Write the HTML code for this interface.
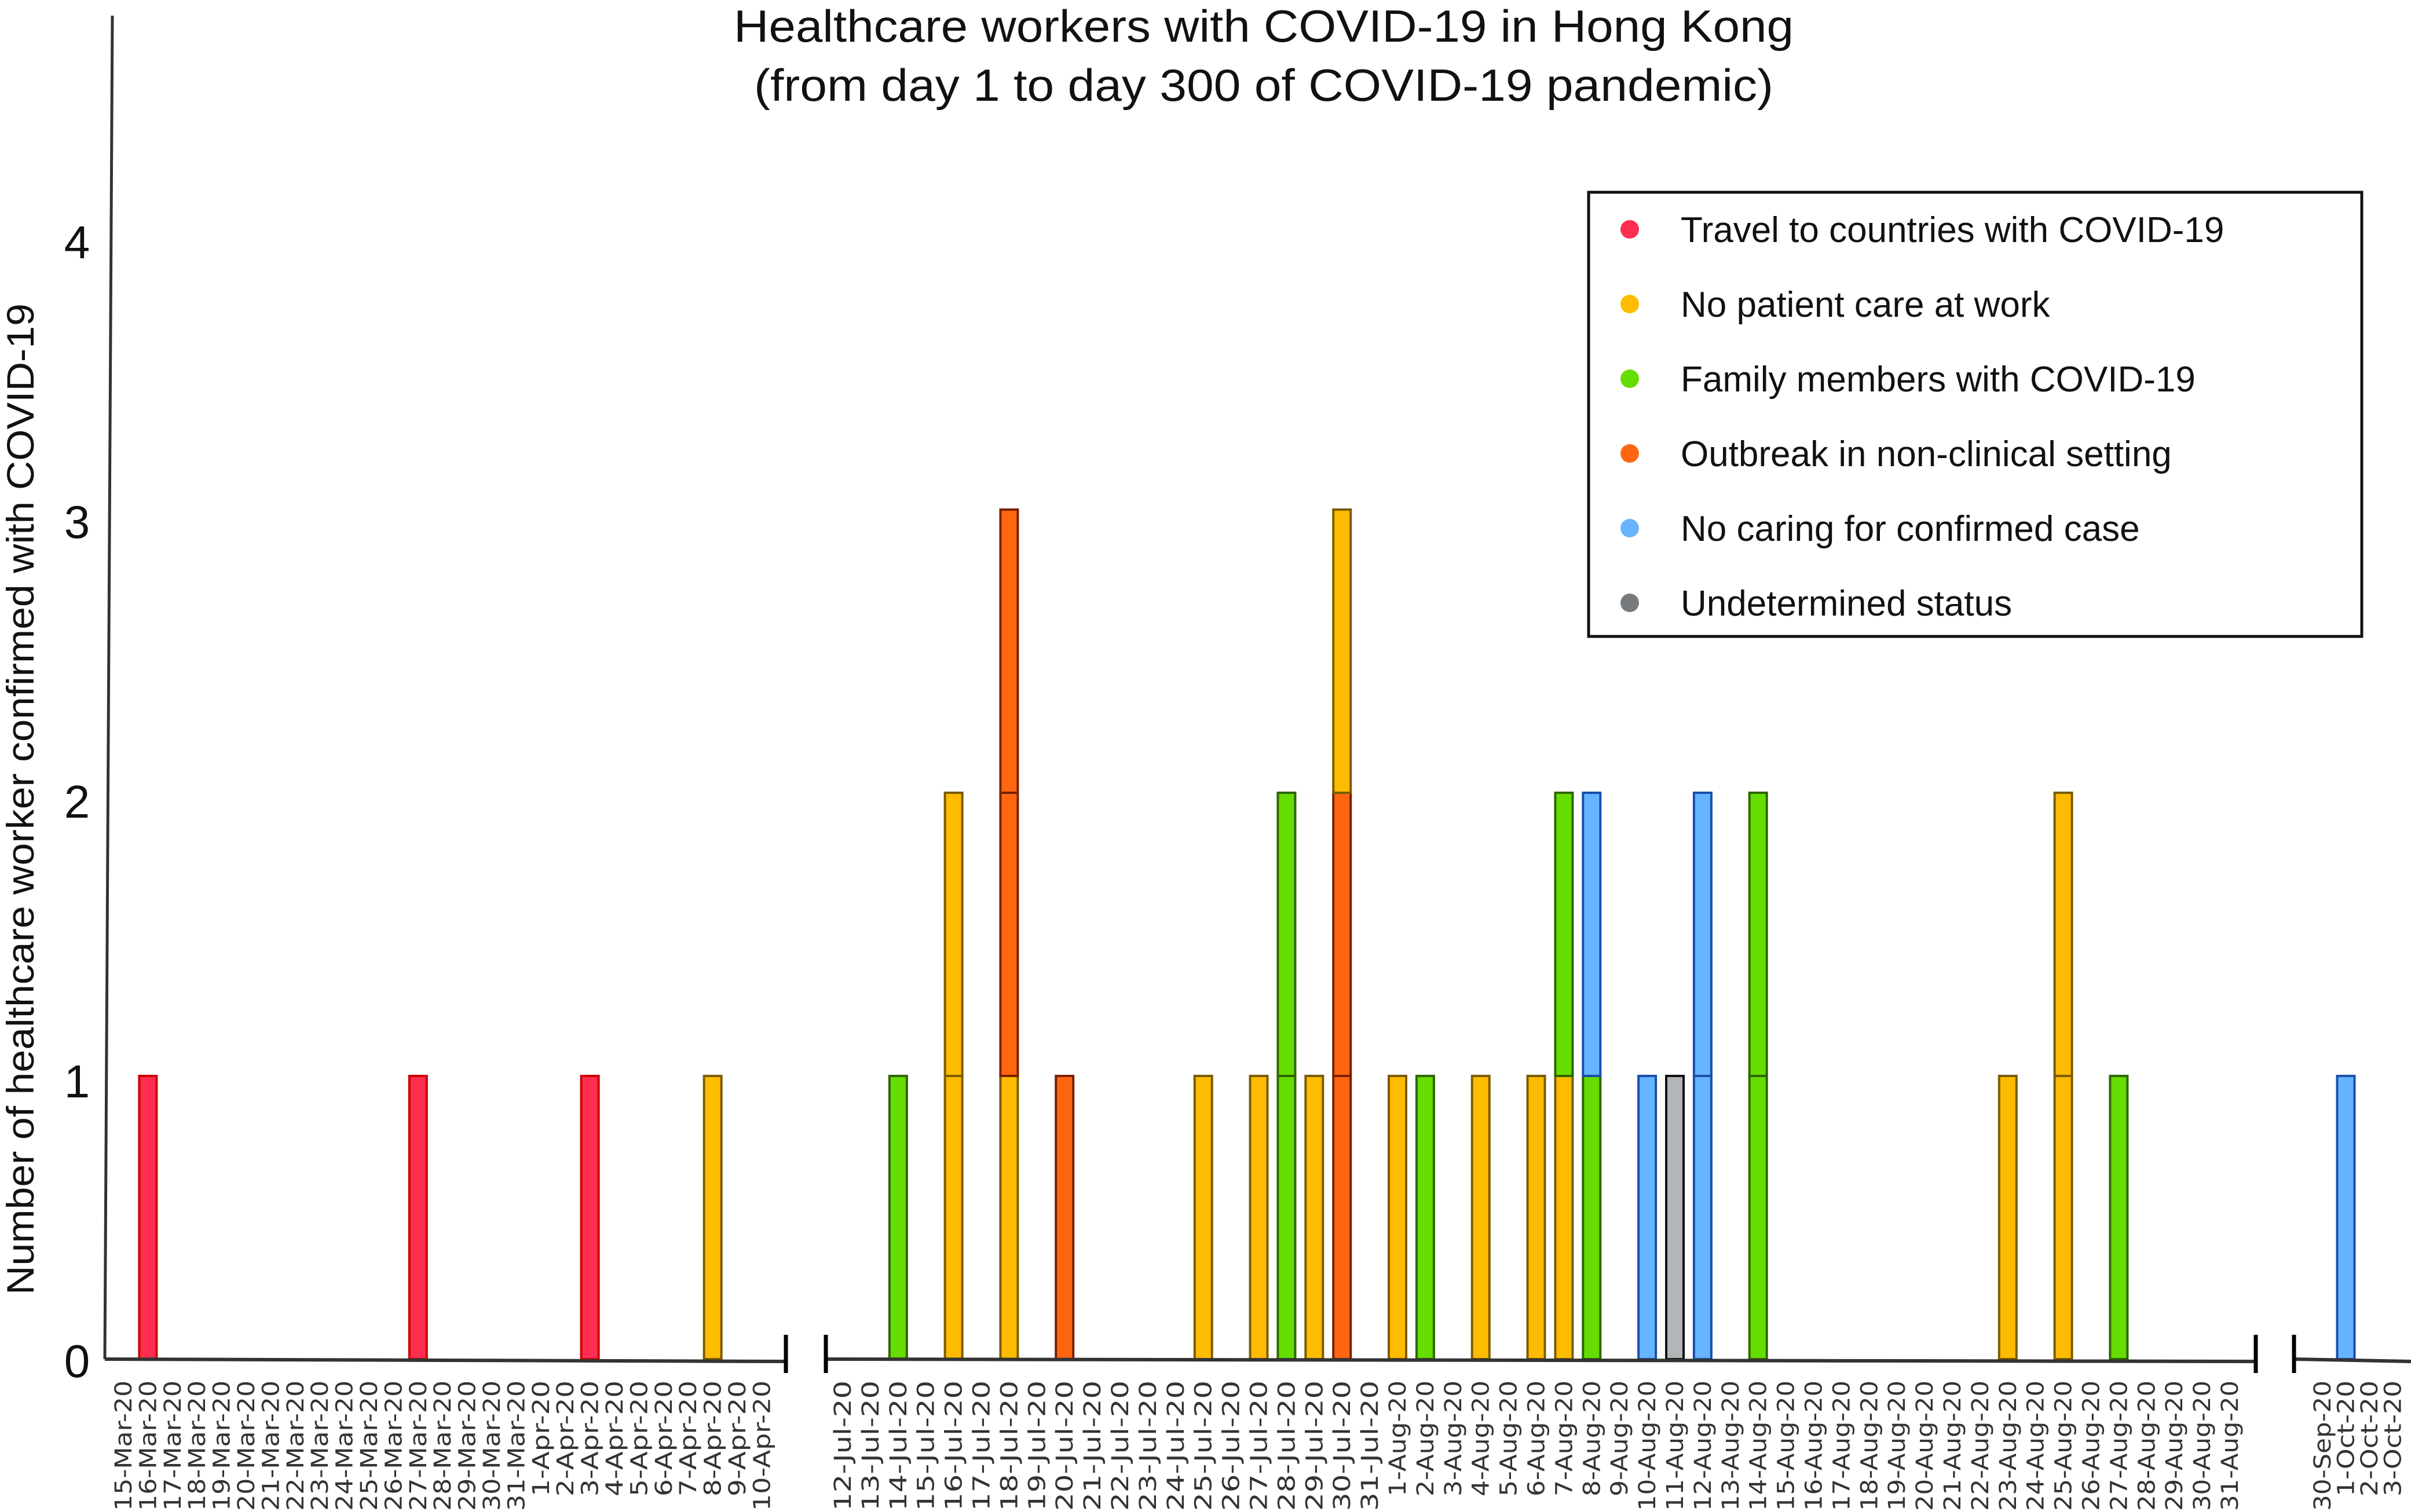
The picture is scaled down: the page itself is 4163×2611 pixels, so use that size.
<!DOCTYPE html>
<html><head><meta charset="utf-8"><style>
html,body{margin:0;padding:0;background:#fff;}
svg{display:block;font-family:"Liberation Sans",sans-serif;}
</style></head><body>
<svg id="chart" width="4163" height="2611" viewBox="0 0 4163 2611" xmlns="http://www.w3.org/2000/svg">
<text x="2182" y="72" font-size="78" text-anchor="middle" textLength="1830" lengthAdjust="spacingAndGlyphs" fill="#111">Healthcare workers with COVID-19 in Hong Kong</text>
<text x="2182" y="174" font-size="78" text-anchor="middle" textLength="1760" lengthAdjust="spacingAndGlyphs" fill="#111">(from day 1 to day 300 of COVID-19 pandemic)</text>
<text transform="translate(58,1380) rotate(-90)" font-size="66" text-anchor="middle" textLength="1712" lengthAdjust="spacingAndGlyphs" fill="#111">Number of healthcare worker confirmed with COVID-19</text>
<line x1="194" y1="27" x2="181" y2="2347" stroke="#333" stroke-width="5"/>
<g id="yticks"></g>
<g id="bars"></g>
<g id="axes"></g>
<g id="xlabels"></g>
<g>
<rect x="2743" y="332" width="1335" height="767" fill="#fff" stroke="#111" stroke-width="5"/>
<g id="legend-items"></g>
</g>
</svg>
<script>
const NS = "http://www.w3.org/2000/svg";
// ---- data ----
const seg1Labels = ["15-Mar-20","16-Mar-20","17-Mar-20","18-Mar-20","19-Mar-20","20-Mar-20","21-Mar-20","22-Mar-20","23-Mar-20","24-Mar-20","25-Mar-20","26-Mar-20","27-Mar-20","28-Mar-20","29-Mar-20","30-Mar-20","31-Mar-20","1-Apr-20","2-Apr-20","3-Apr-20","4-Apr-20","5-Apr-20","6-Apr-20","7-Apr-20","8-Apr-20","9-Apr-20","10-Apr-20"];
const seg2Labels = ["12-Jul-20","13-Jul-20","14-Jul-20","15-Jul-20","16-Jul-20","17-Jul-20","18-Jul-20","19-Jul-20","20-Jul-20","21-Jul-20","22-Jul-20","23-Jul-20","24-Jul-20","25-Jul-20","26-Jul-20","27-Jul-20","28-Jul-20","29-Jul-20","30-Jul-20","31-Jul-20","1-Aug-20","2-Aug-20","3-Aug-20","4-Aug-20","5-Aug-20","6-Aug-20","7-Aug-20","8-Aug-20","9-Aug-20","10-Aug-20","11-Aug-20","12-Aug-20","13-Aug-20","14-Aug-20","15-Aug-20","16-Aug-20","17-Aug-20","18-Aug-20","19-Aug-20","20-Aug-20","21-Aug-20","22-Aug-20","23-Aug-20","24-Aug-20","25-Aug-20","26-Aug-20","27-Aug-20","28-Aug-20","29-Aug-20","30-Aug-20","31-Aug-20"];
const seg3Labels = ["30-Sep-20","1-Oct-20","2-Oct-20","3-Oct-20"];
const categoryNames = ["Travel to countries with COVID-19","No patient care at work","Family members with COVID-19","Outbreak in non-clinical setting","No caring for confirmed case","Undetermined status"];
const categoryKeys = ["travel","nocare","family","outbreak","noconfirmed","undetermined"];
const yTicks = [0,1,2,3,4];
const stackDates = ["16-Mar-20","27-Mar-20","3-Apr-20","8-Apr-20","14-Jul-20","16-Jul-20","18-Jul-20","20-Jul-20","25-Jul-20","27-Jul-20","28-Jul-20","29-Jul-20","30-Jul-20","1-Aug-20","2-Aug-20","4-Aug-20","6-Aug-20","7-Aug-20","8-Aug-20","10-Aug-20","11-Aug-20","12-Aug-20","14-Aug-20","23-Aug-20","25-Aug-20","27-Aug-20","1-Oct-20"];
const stackCases = [["travel"],["travel"],["travel"],["nocare"],["family"],["nocare","nocare"],["nocare","outbreak","outbreak"],["outbreak"],["nocare"],["nocare"],["family","family"],["nocare"],["outbreak","outbreak","nocare"],["nocare"],["family"],["nocare"],["nocare"],["nocare","family"],["family","noconfirmed"],["noconfirmed"],["undetermined"],["noconfirmed","noconfirmed"],["family","family"],["nocare"],["nocare","nocare"],["family"],["noconfirmed"]];
// ---- styles ----
const fills = {travel:"#ff2d50",nocare:"#ffbb00",family:"#66dd00",outbreak:"#ff6611",noconfirmed:"#66b4ff",undetermined:"#b1b6b9"};
const dotFills = {travel:"#ff2d50",nocare:"#ffbb00",family:"#66dd00",outbreak:"#ff6611",noconfirmed:"#66b4ff",undetermined:"#777b7e"};
const strokes = {travel:"#cc0000",nocare:"#7a5c00",family:"#2e6600",outbreak:"#7a2000",noconfirmed:"#1a4faa",undetermined:"#111111"};
const Y0 = 2347, UNIT = 489, BARW = 30;
function yScale(v){ return Y0 - v*UNIT; }
function yTickScale(v){ return 2350 - v*483; }
function xScale(label){
  let i = seg1Labels.indexOf(label); if(i>=0) return 213 + i*42.4;
  i = seg2Labels.indexOf(label); if(i>=0) return 1455 + i*47.9;
  i = seg3Labels.indexOf(label); if(i>=0) return 4010 + i*40.5;
  return -100;
}
function mk(tag, attrs, parent){ const e=document.createElementNS(NS,tag); for(const k in attrs) e.setAttribute(k,attrs[k]); parent.appendChild(e); return e; }
const yt = document.getElementById("yticks");
yTicks.forEach(v=>{
  const t = mk("text",{x:133,y:yTickScale(v)+28,"font-size":80,"text-anchor":"middle",fill:"#111"},yt);
  
  
  t.textContent = v;
});
const bg = document.getElementById("bars");
stackDates.forEach((d,i)=>{
  const cx = xScale(d);
  stackCases[i].forEach((k,j)=>{
    const r = mk("rect",{x:cx-BARW/2,y:yScale(j+1),width:BARW,height:UNIT,fill:fills[k],stroke:strokes[k],"stroke-width":4},bg);
    
    
  });
});
const ax = document.getElementById("axes");
[[181,1357],[1426,3895],[3961,4163]].forEach(s=>{
  const l = mk("line",{x1:s[0],y1:Y0,x2:s[1],y2:Y0+4,stroke:"#333","stroke-width":6},ax);
  
  
});
[1357,1426,3895,3961].forEach(x=>{
  const l = mk("line",{x1:x,y1:2305,x2:x,y2:2371,stroke:"#000","stroke-width":7},ax);
  
  
});
const xl = document.getElementById("xlabels");
seg1Labels.concat(seg2Labels, seg3Labels).forEach(lb=>{
  const x = xScale(lb);
  const t = mk("text",{transform:`translate(${x+14},2384) rotate(-90)`,"font-size":40,"text-anchor":"end",fill:"#333","font-family":"DejaVu Sans, sans-serif",textLength:lb.length*25,lengthAdjust:"spacingAndGlyphs"},xl);
  
  
  t.textContent = lb;
});
const lg = document.getElementById("legend-items");
categoryKeys.forEach((k,i)=>{
  const cy = 396 + i*129;
  const c = mk("circle",{cx:2814,cy:cy,r:16,fill:dotFills[k]},lg);
  
  
  const t = mk("text",{x:2902,y:cy+22,"font-size":62,fill:"#111"},lg);
  
  
  t.textContent = categoryNames[i];
});
</script>
</body></html>
